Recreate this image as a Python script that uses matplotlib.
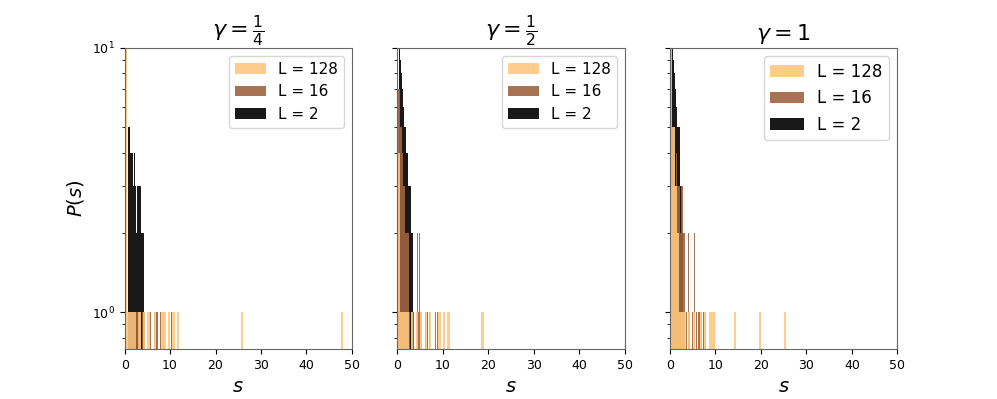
import numpy as np
from matplotlib import pyplot as plt

# avalanche sizes s (bin positions) and how many fell in each bin
titles = [r'$\gamma = \frac{1}{4}$', r'$\gamma = \frac{1}{2}$', r'$\gamma = 1$']
sizes = [128, 16, 2]

# gamma = 1/4
p1_L128_s = [0.25, 0.75, 1.25, 1.75, 2.25, 3.25, 4.25, 5.25, 6.75, 8.25, 8.75, 9.75, 10.75, 11.75, 25.75, 47.75]
p1_L128_n = [12, 1, 1, 1, 1, 1, 1, 1, 1, 1, 1, 1, 1, 1, 1, 1]
p1_L16_s = [2.625, 2.875, 3.375, 3.875, 4.375, 5.625, 6.625, 7.125, 7.875, 8.625, 10.375]
p1_L16_n = [1, 1, 1, 1, 1, 1, 1, 1, 1, 1, 1]
p1_L2_s = [0.8, 0.95, 1.1, 1.25, 1.4, 1.55, 1.7, 1.85, 2.0, 2.15, 2.3, 2.45, 2.6, 2.75,
           2.9, 3.05, 3.2, 3.35, 3.5, 3.65, 3.8, 3.95, 4.1, 4.25]
p1_L2_n = [5, 5, 5, 4, 5, 4, 4, 4, 3, 4, 3, 3, 2, 3, 2, 3, 3, 2, 3, 2, 3, 2, 2, 1]

# gamma = 1/2
p2_L128_s = [0.25, 0.75, 1.25, 1.75, 2.25, 3.25, 4.25, 5.25, 6.25, 7.25, 9.25, 10.25, 11.25, 18.75]
p2_L128_n = [4, 1, 1, 1, 1, 1, 1, 1, 1, 1, 1, 1, 1, 1]
p2_L16_s = [0.125, 0.375, 0.625, 0.875, 1.125, 1.375, 1.625, 1.875, 2.125, 2.375, 2.625,
            3.125, 3.625, 4.375, 4.625, 4.875, 5.375, 6.125, 6.625, 7.125, 8.375, 8.875]
p2_L16_n = [10, 7, 5, 5, 4, 3, 3, 2, 2, 2, 1, 1, 1, 2, 1, 2, 1, 1, 1, 1, 1, 1]
p2_L2_s = [0.35, 0.5, 0.65, 0.8, 0.95, 1.1, 1.25, 1.4, 1.55, 1.7, 1.85, 2.0, 2.15, 2.3,
           2.45, 2.6, 2.75, 2.9, 3.05, 3.2, 3.35, 3.5, 3.65]
p2_L2_n = [11, 10, 9, 8, 8, 7, 6, 6, 5, 5, 4, 4, 4, 4, 3, 3, 3, 3, 2, 2, 2, 1, 1]

# gamma = 1
p3_L128_s = [0.25, 0.75, 1.25, 1.75, 2.25, 2.75, 3.25, 4.25, 5.25, 6.75, 7.75, 8.75, 9.25, 9.75, 14.25, 19.75, 25.25]
p3_L128_n = [12, 5, 3, 2, 1, 1, 1, 1, 1, 1, 1, 1, 1, 1, 1, 1, 1]
p3_L16_s = [0.125, 0.375, 0.625, 0.875, 1.125, 1.375, 1.625, 1.875, 2.125, 2.375, 2.625, 2.875,
            3.125, 3.625, 4.125, 4.375, 4.875, 5.375, 5.875, 6.375, 6.875, 7.375, 7.875]
p3_L16_n = [12, 3, 3, 3, 3, 4, 3, 3, 3, 2, 3, 2, 2, 1, 2, 1, 1, 2, 1, 1, 1, 1, 1]
p3_L2_s = [0.35, 0.5, 0.65, 0.8, 0.95, 1.1, 1.25, 1.4, 1.55, 1.7, 1.85, 2.0, 2.15, 2.3,
           2.45, 2.6, 2.75, 2.9, 3.05]
p3_L2_n = [11, 11, 10, 9, 8, 8, 7, 6, 5, 5, 5, 5, 4, 3, 3, 2, 2, 1, 1]

data = [
    {128: (p1_L128_s, p1_L128_n), 16: (p1_L16_s, p1_L16_n), 2: (p1_L2_s, p1_L2_n)},
    {128: (p2_L128_s, p2_L128_n), 16: (p2_L16_s, p2_L16_n), 2: (p2_L2_s, p2_L2_n)},
    {128: (p3_L128_s, p3_L128_n), 16: (p3_L16_s, p3_L16_n), 2: (p3_L2_s, p3_L2_n)},
]

colors = {128: plt.cm.copper(1.0), 16: plt.cm.copper(0.5), 2: plt.cm.copper(0.0)}
bin_width = {128: 0.5, 16: 0.25, 2: 0.15}

fig, axes = plt.subplots(1, 3, figsize=(9.97, 3.99), dpi=100, sharey=True)
fig.subplots_adjust(left=0.125, right=0.9, bottom=0.125, top=0.88, wspace=0.2)

for i, ax in enumerate(axes):
    handles = {}
    for L in [2, 16, 128]:
        s, n = data[i][L]
        edges = np.arange(0, 50 + bin_width[L], bin_width[L])
        _, _, patches = ax.hist(s, bins=edges, weights=n, color=colors[L], alpha=0.9,
                                label='L = %d' % L)
        handles[L] = patches[0]
    ax.set_yscale('log')
    ax.set_ylim(0.725, 10)
    ax.set_xlim(0, 50)
    ax.set_xticks([0, 10, 20, 30, 40, 50])
    ax.tick_params(labelsize=9)
    for sp in ax.spines.values():
        sp.set_color('0.4')
    ax.set_title(titles[i], fontsize=16)
    ax.set_xlabel(r'$s$', fontsize=14)
    ax.legend([handles[L] for L in sizes], ['L = %d' % L for L in sizes],
              loc='upper right', fontsize=12 if i == 2 else 11)

axes[0].set_ylabel(r'$P(s)$', fontsize=14)

plt.savefig('out.png', dpi=100)
